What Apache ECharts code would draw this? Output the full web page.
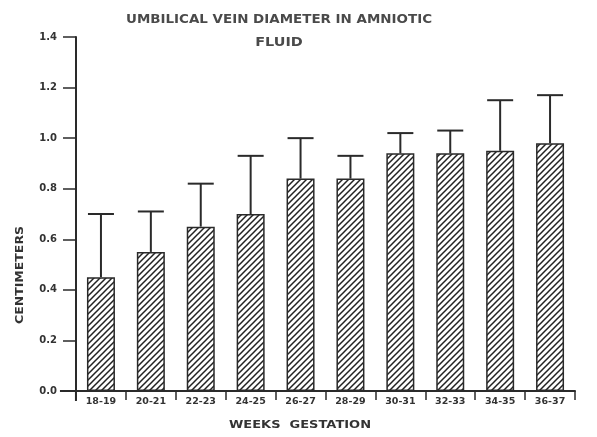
<!DOCTYPE html>
<html>
<head>
<meta charset="utf-8">
<script src="https://cdn.jsdelivr.net/npm/echarts@6/dist/echarts.min.js"></script>
<style>html,body{margin:0;padding:0;background:#fff;}#c{width:597px;height:437px;}</style>
</head>
<body>
<div id="c"></div>
<script>
var categories = ['18-19','20-21','22-23','24-25','26-27','28-29','30-31','32-33','34-35','36-37'];
var means = [0.45, 0.55, 0.65, 0.70, 0.84, 0.84, 0.94, 0.94, 0.95, 0.98];
var errorTops = [0.70, 0.71, 0.82, 0.93, 1.00, 0.93, 1.02, 1.03, 1.15, 1.17];
var yTicks = [0, 0.2, 0.4, 0.6, 0.8, 1.0, 1.2, 1.4];

function hatch() {
  var c = document.createElement('canvas');
  c.width = 6; c.height = 6;
  var g = c.getContext('2d');
  g.fillStyle = '#fff'; g.fillRect(0, 0, 6, 6);
  g.strokeStyle = '#222'; g.lineWidth = 1.5;
  g.beginPath();
  g.moveTo(-1, 7); g.lineTo(7, -1);
  g.moveTo(-4, 4); g.lineTo(4, -4);
  g.moveTo(2, 10); g.lineTo(10, 2);
  g.stroke();
  return c;
}

var ink = '#2a2a2a';
var chart = echarts.init(document.getElementById('c'));
var option = {
  backgroundColor: '#fff',
  animation: false,
  grid: { left: 76, right: 22, top: 37, bottom: 46 },
  xAxis: {
    type: 'category', data: categories,
    axisLine: { lineStyle: { color: ink, width: 2 } },
    axisTick: { show: true, length: 9, lineStyle: { color: ink, width: 1.5 } },
    axisLabel: { color: '#333', fontFamily: 'DejaVu Sans', fontWeight: 'bold', fontSize: 9.5, margin: 6 }
  },
  yAxis: {
    type: 'value', min: 0, max: 1.4, interval: 0.2,
    splitLine: { show: false },
    axisLine: { show: true, lineStyle: { color: ink, width: 2 } },
    axisTick: { show: true, length: 13, lineStyle: { color: ink, width: 1.5 } },
    axisLabel: { color: '#333', fontFamily: 'DejaVu Sans', fontWeight: 'bold', fontSize: 10, margin: 19,
      formatter: function (v) { return v.toFixed(1); } }
  },
  series: [
    {
      type: 'bar', data: means, barWidth: 28,
      itemStyle: { color: { image: hatch(), repetition: 'repeat' }, borderColor: ink, borderWidth: 1.5 }
    },
    {
      type: 'custom',
      data: categories.map(function (c, i) { return [i, means[i], errorTops[i]]; }),
      renderItem: function (params, api) {
        var base = api.coord([api.value(0), api.value(1)]);
        var top = api.coord([api.value(0), api.value(2)]);
        var hw = 13;
        return {
          type: 'group',
          children: [
            { type: 'line', shape: { x1: base[0], y1: base[1], x2: top[0], y2: top[1] }, style: { stroke: ink, lineWidth: 2 } },
            { type: 'line', shape: { x1: top[0] - hw, y1: top[1], x2: top[0] + hw, y2: top[1] }, style: { stroke: ink, lineWidth: 2 } }
          ]
        };
      },
      z: 3
    }
  ]
};
chart.setOption(option);
var y0 = chart.convertToPixel({ yAxisIndex: 0 }, 0);
var xL = chart.convertToPixel({ xAxisIndex: 0 }, 0) - 25;
chart.setOption({
  graphic: [
    { type: 'line', shape: { x1: xL - 16, y1: y0, x2: xL, y2: y0 }, style: { stroke: ink, lineWidth: 2 } },
    { type: 'line', shape: { x1: xL, y1: y0, x2: xL, y2: y0 + 10 }, style: { stroke: ink, lineWidth: 2 } },
    { type: 'text', x: 279, y: 20, scaleX: 1.12,
      style: { text: 'UMBILICAL VEIN DIAMETER IN AMNIOTIC', fill: '#4a4a4a', font: 'bold 12px "DejaVu Sans"', textAlign: 'center', textVerticalAlign: 'middle' } },
    { type: 'text', x: 279, y: 43, scaleX: 1.2,
      style: { text: 'FLUID', fill: '#4a4a4a', font: 'bold 12px "DejaVu Sans"', textAlign: 'center', textVerticalAlign: 'middle' } },
    { type: 'text', x: 20, y: 275, rotation: Math.PI / 2, scaleX: 1.25,
      style: { text: 'CENTIMETERS', fill: '#333', font: 'bold 10px "DejaVu Sans"', textAlign: 'center', textVerticalAlign: 'middle' } },
    { type: 'text', x: 300, y: 425, scaleX: 1.3,
      style: { text: 'WEEKS  GESTATION', fill: '#333', font: 'bold 10px "DejaVu Sans"', textAlign: 'center', textVerticalAlign: 'middle' } }
  ]
});
</script>
</body>
</html>
